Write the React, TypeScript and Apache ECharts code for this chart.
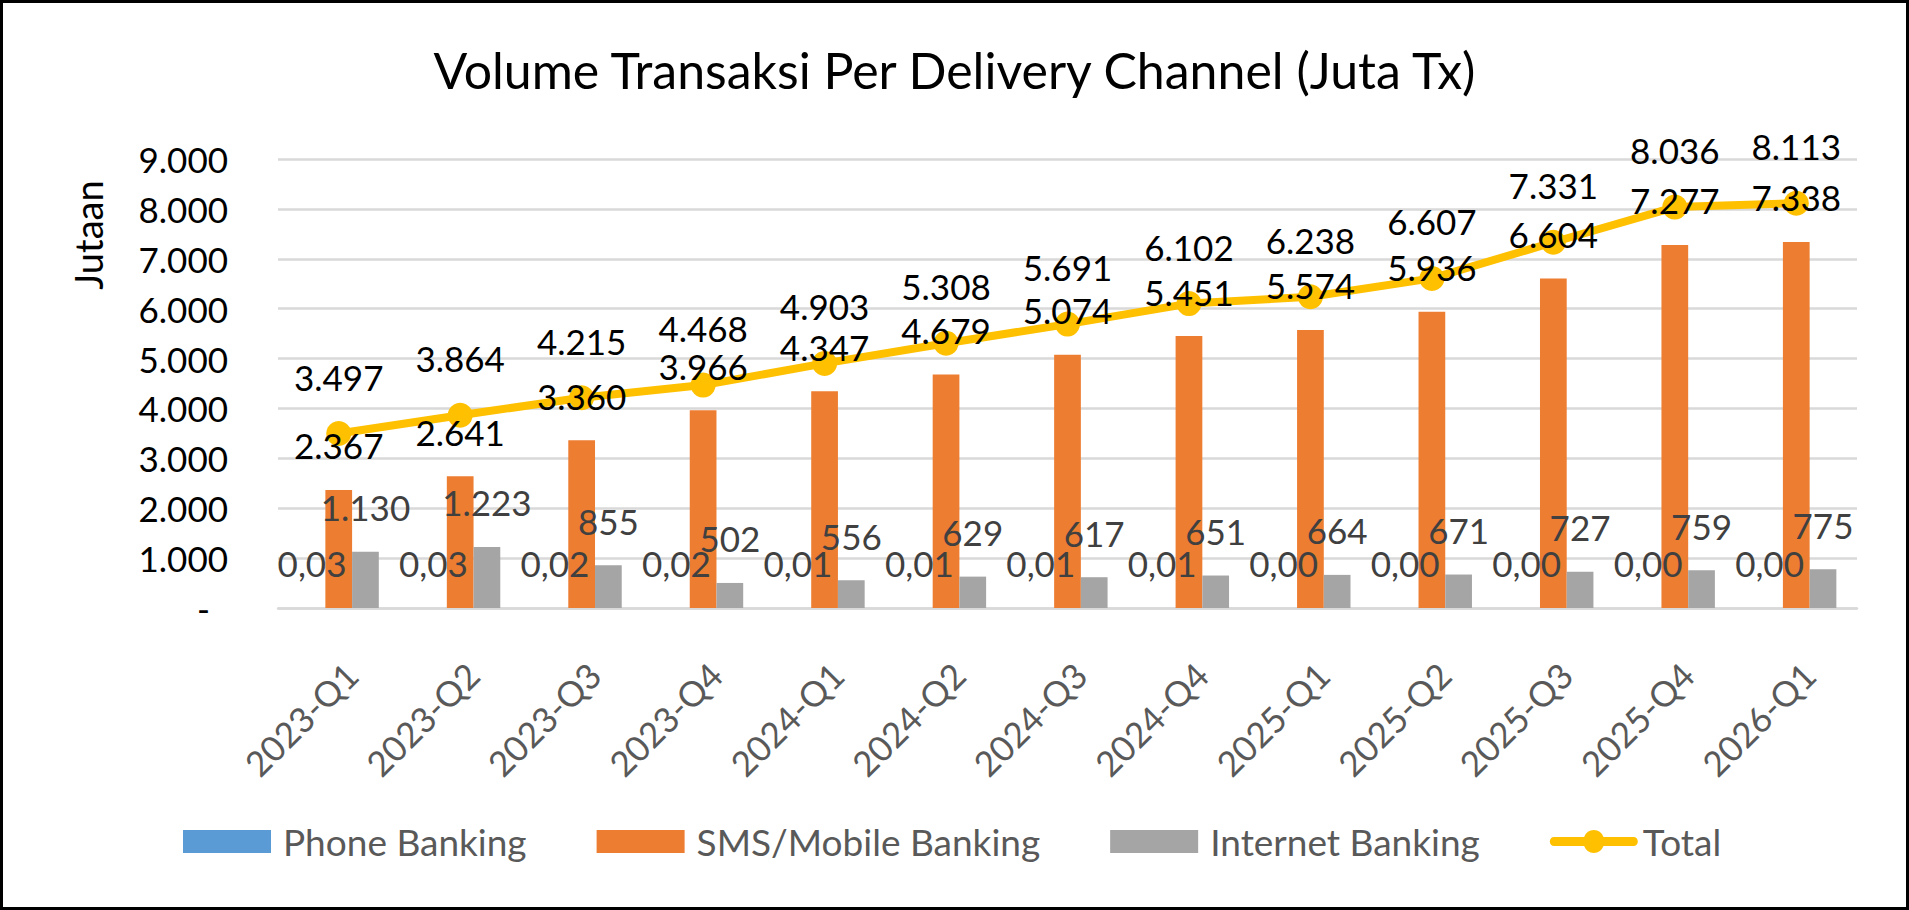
import React, { useEffect, useRef } from "react";
import * as echarts from "echarts";

const categories = ["2023-Q1","2023-Q2","2023-Q3","2023-Q4","2024-Q1","2024-Q2","2024-Q3","2024-Q4","2025-Q1","2025-Q2","2025-Q3","2025-Q4","2026-Q1"];
const phoneBanking = [0.03,0.03,0.02,0.02,0.01,0.01,0.01,0.01,0.004,0.004,0.003,0.003,0.002];
const smsMobileBanking = [2367,2641,3360,3966,4347,4679,5074,5451,5574,5936,6604,7277,7338];
const internetBanking = [1130,1223,855,502,556,629,617,651,664,671,727,759,775];
const total = [3497,3864,4215,4468,4903,5308,5691,6102,6238,6607,7331,8036,8113];
const yTicks = [0,1000,2000,3000,4000,5000,6000,7000,8000,9000];

const FONT = "Lato";
const fmtThousands = (v: number) => String(Math.round(v)).replace(/\B(?=(\d{3})+(?!\d))/g, ".");
const fmtDec = (v: number) => v.toFixed(2).replace(".", ",");

const LINE_ICON =
  "path://M4.5,7 L37.42,7 A11.5,11.5 0 0 1 58.58,7 L91.5,7 A4.5,4.5 0 0 1 91.5,16 L58.58,16 A11.5,11.5 0 0 1 37.42,16 L4.5,16 A4.5,4.5 0 0 1 4.5,7 Z";

export default function App() {
  const ref = useRef<HTMLDivElement>(null);
  useEffect(() => {
    document.body.style.margin = "0";
    const chart = echarts.init(ref.current!, undefined, { renderer: "svg" });
    const labelBase = { show: true, position: "top", distance: 27, fontSize: 35, fontFamily: FONT, lineHeight: 35 };
    const legendText = { fontSize: 37, color: "#595959", fontFamily: FONT, padding: [0, 0, 0, 7] };
    chart.setOption({
      animation: false,
      backgroundColor: "#ffffff",
      textStyle: { fontFamily: FONT },
      title: {
        text: "Volume Transaksi Per Delivery Channel (Juta Tx)",
        left: "center",
        top: 40,
        textStyle: { fontSize: 50, fontWeight: "normal", color: "#000000", fontFamily: FONT },
      },
      graphic: [
        { type: "rect", shape: { x: 1.5, y: 1.5, width: 1906, height: 907 }, style: { fill: "none", stroke: "#000000", lineWidth: 3 }, silent: true },
        { type: "text", x: 88, y: 235, rotation: Math.PI / 2, style: { text: "Jutaan", fontSize: 38, fontFamily: FONT, fill: "#000000", align: "center", verticalAlign: "middle" } },
      ],
      legend: {
        data: [
          { name: "Phone Banking", icon: "rect" },
          { name: "SMS/Mobile Banking", icon: "rect" },
          { name: "Internet Banking", icon: "rect" },
          { name: "Total", icon: LINE_ICON, textStyle: { ...legendText, padding: [0, 0, 0, 0] } },
        ],
        left: 183,
        top: 823,
        padding: 0,
        itemWidth: 88,
        itemHeight: 23,
        itemGap: 70,
        symbolKeepAspect: false,
        textStyle: legendText,
      },
      grid: { left: 278, right: 52, top: 159, bottom: 302, containLabel: false },
      xAxis: {
        type: "category",
        data: categories,
        axisLine: { lineStyle: { color: "#d9d9d9", width: 2.5 } },
        axisTick: { show: false },
        axisLabel: { interval: 0, rotate: 45, margin: 48, align: "right", verticalAlign: "top", color: "#595959", fontSize: 35, fontFamily: FONT },
      },
      yAxis: {
        type: "value",
        min: yTicks[0],
        max: yTicks[yTicks.length - 1],
        interval: 1000,
        axisLine: { show: false },
        axisTick: { show: false },
        splitLine: { lineStyle: { color: "#d9d9d9", width: 2.5 } },
        axisLabel: {
          margin: 50,
          color: "#000000",
          fontSize: 35,
          fontFamily: FONT,
          formatter: (v: number) => (v === 0 ? "{z|-}" : fmtThousands(v)),
          rich: { z: { fontSize: 35, fontFamily: FONT, color: "#000000", padding: [0, 18, 0, 0] } },
        },
      },
      series: [
        {
          name: "Phone Banking", type: "bar", data: phoneBanking, z: 3,
          barGap: "0%", barCategoryGap: "34%",
          itemStyle: { color: "#5B9BD5" },
          label: { ...labelBase, color: "#404040", formatter: (p: any) => fmtDec(p.value) },
        },
        {
          name: "SMS/Mobile Banking", type: "bar", data: smsMobileBanking, z: 3,
          barGap: "0%", barCategoryGap: "34%",
          itemStyle: { color: "#ED7D31" },
          label: { ...labelBase, color: "#000000", formatter: (p: any) => fmtThousands(p.value) },
        },
        {
          name: "Internet Banking", type: "bar", data: internetBanking, z: 3,
          barGap: "0%", barCategoryGap: "34%",
          itemStyle: { color: "#A5A5A5" },
          label: { ...labelBase, color: "#404040", formatter: (p: any) => fmtThousands(p.value) },
        },
        {
          name: "Total", type: "line", data: total, z: 2,
          symbol: "circle", symbolSize: 25,
          lineStyle: { color: "#FFC000", width: 8, cap: "round" },
          itemStyle: { color: "#FFC000" },
          label: { ...labelBase, color: "#000000", formatter: (p: any) => fmtThousands(p.value) },
        },
      ],
    });
    return () => chart.dispose();
  }, []);
  return <div ref={ref} style={{ width: 1909, height: 910 }} />;
}
